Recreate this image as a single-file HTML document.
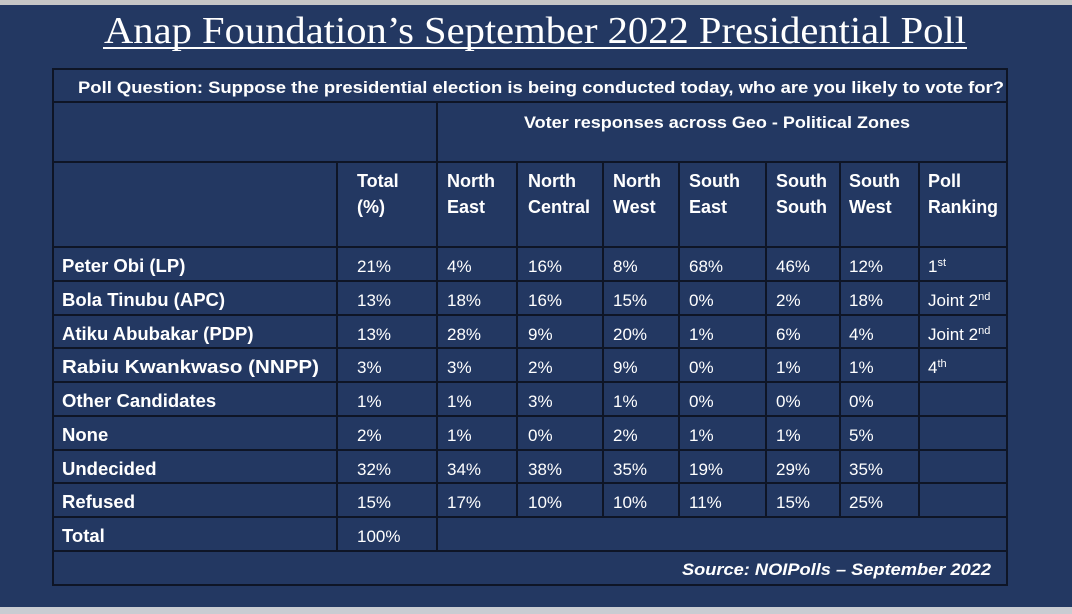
<!DOCTYPE html>
<html><head><meta charset="utf-8"><style>
html,body{margin:0;padding:0;background:#233862;}
svg{display:block}
text{font-family:"Liberation Sans",sans-serif;fill:#fff;font-size:17px}
.b{font-weight:bold}
.l{font-size:18.5px}
.h{font-size:18px}
</style></head><body>
<svg width="1072" height="614" xmlns="http://www.w3.org/2000/svg">
<rect x="0" y="0" width="1072" height="614" fill="#233862"/>
<rect x="0" y="0" width="1072" height="5" fill="#c6c6c6"/>
<rect x="0" y="607" width="1072" height="7" fill="#c9ccd2"/>
<text x="535" y="43" text-anchor="middle" style="font-family:'Liberation Serif',serif;font-size:38px" textLength="862" lengthAdjust="spacingAndGlyphs">Anap Foundation’s September 2022 Presidential Poll</text>
<rect x="103" y="47" width="864" height="2" fill="#fff"/>
<g stroke="#0e1526" stroke-width="2" fill="none">
<rect x="53" y="69" width="954" height="516"/>
<line x1="53" y1="102" x2="1007" y2="102"/>
<line x1="53" y1="162" x2="1007" y2="162"/>
<line x1="53" y1="247" x2="1007" y2="247"/>
<line x1="53" y1="281" x2="1007" y2="281"/>
<line x1="53" y1="315" x2="1007" y2="315"/>
<line x1="53" y1="348" x2="1007" y2="348"/>
<line x1="53" y1="382" x2="1007" y2="382"/>
<line x1="53" y1="416" x2="1007" y2="416"/>
<line x1="53" y1="450" x2="1007" y2="450"/>
<line x1="53" y1="483" x2="1007" y2="483"/>
<line x1="53" y1="517" x2="1007" y2="517"/>
<line x1="53" y1="551" x2="1007" y2="551"/>
<line x1="437" y1="102" x2="437" y2="551"/>
<line x1="337" y1="162" x2="337" y2="551"/>
<line x1="517" y1="162" x2="517" y2="517"/>
<line x1="603" y1="162" x2="603" y2="517"/>
<line x1="679" y1="162" x2="679" y2="517"/>
<line x1="766" y1="162" x2="766" y2="517"/>
<line x1="840" y1="162" x2="840" y2="517"/>
<line x1="919" y1="162" x2="919" y2="517"/>
</g>
<text class="b" x="78" y="93" textLength="926" lengthAdjust="spacingAndGlyphs">Poll Question: Suppose the presidential election is being conducted today, who are you likely to vote for?</text>
<text class="b" x="524" y="128" textLength="386" lengthAdjust="spacingAndGlyphs">Voter responses across Geo - Political Zones</text>
<g>
<text class="b h" x="357" y="187">Total</text><text class="b h" x="357" y="213">(%)</text>
<text class="b h" x="447" y="187">North</text><text class="b h" x="447" y="213">East</text>
<text class="b h" x="528" y="187">North</text><text class="b h" x="528" y="213">Central</text>
<text class="b h" x="613" y="187">North</text><text class="b h" x="613" y="213">West</text>
<text class="b h" x="689" y="187">South</text><text class="b h" x="689" y="213">East</text>
<text class="b h" x="776" y="187">South</text><text class="b h" x="776" y="213">South</text>
<text class="b h" x="849" y="187">South</text><text class="b h" x="849" y="213">West</text>
<text class="b h" x="928" y="187">Poll</text><text class="b h" x="928" y="213" textLength="70" lengthAdjust="spacingAndGlyphs">Ranking</text>
</g>
<g>
<text class="b l" x="62" y="272">Peter Obi (LP)</text>
<text class="b l" x="62" y="306">Bola Tinubu (APC)</text>
<text class="b l" x="62" y="340">Atiku Abubakar (PDP)</text>
<text class="b l" x="62" y="373" textLength="257" lengthAdjust="spacingAndGlyphs">Rabiu Kwankwaso (NNPP)</text>
<text class="b l" x="62" y="407">Other Candidates</text>
<text class="b l" x="62" y="441">None</text>
<text class="b l" x="62" y="475">Undecided</text>
<text class="b l" x="62" y="508">Refused</text>
<text class="b l" x="62" y="542">Total</text>
</g>
<g>
<text x="357" y="272">21%</text><text x="447" y="272">4%</text><text x="528" y="272">16%</text><text x="613" y="272">8%</text><text x="689" y="272">68%</text><text x="776" y="272">46%</text><text x="849" y="272">12%</text><text x="928" y="272">1<tspan font-size="11" dy="-6">st</tspan></text>
<text x="357" y="306">13%</text><text x="447" y="306">18%</text><text x="528" y="306">16%</text><text x="613" y="306">15%</text><text x="689" y="306">0%</text><text x="776" y="306">2%</text><text x="849" y="306">18%</text><text x="928" y="306">Joint 2<tspan font-size="11" dy="-6">nd</tspan></text>
<text x="357" y="340">13%</text><text x="447" y="340">28%</text><text x="528" y="340">9%</text><text x="613" y="340">20%</text><text x="689" y="340">1%</text><text x="776" y="340">6%</text><text x="849" y="340">4%</text><text x="928" y="340">Joint 2<tspan font-size="11" dy="-6">nd</tspan></text>
<text x="357" y="373">3%</text><text x="447" y="373">3%</text><text x="528" y="373">2%</text><text x="613" y="373">9%</text><text x="689" y="373">0%</text><text x="776" y="373">1%</text><text x="849" y="373">1%</text><text x="928" y="373">4<tspan font-size="11" dy="-6">th</tspan></text>
<text x="357" y="407">1%</text><text x="447" y="407">1%</text><text x="528" y="407">3%</text><text x="613" y="407">1%</text><text x="689" y="407">0%</text><text x="776" y="407">0%</text><text x="849" y="407">0%</text>
<text x="357" y="441">2%</text><text x="447" y="441">1%</text><text x="528" y="441">0%</text><text x="613" y="441">2%</text><text x="689" y="441">1%</text><text x="776" y="441">1%</text><text x="849" y="441">5%</text>
<text x="357" y="475">32%</text><text x="447" y="475">34%</text><text x="528" y="475">38%</text><text x="613" y="475">35%</text><text x="689" y="475">19%</text><text x="776" y="475">29%</text><text x="849" y="475">35%</text>
<text x="357" y="508">15%</text><text x="447" y="508">17%</text><text x="528" y="508">10%</text><text x="613" y="508">10%</text><text x="689" y="508">11%</text><text x="776" y="508">15%</text><text x="849" y="508">25%</text>
<text x="357" y="542">100%</text>
</g>
<text class="b" x="682" y="575" font-style="italic" textLength="309" lengthAdjust="spacingAndGlyphs">Source: NOIPolls – September 2022</text>
</svg>
</body></html>
